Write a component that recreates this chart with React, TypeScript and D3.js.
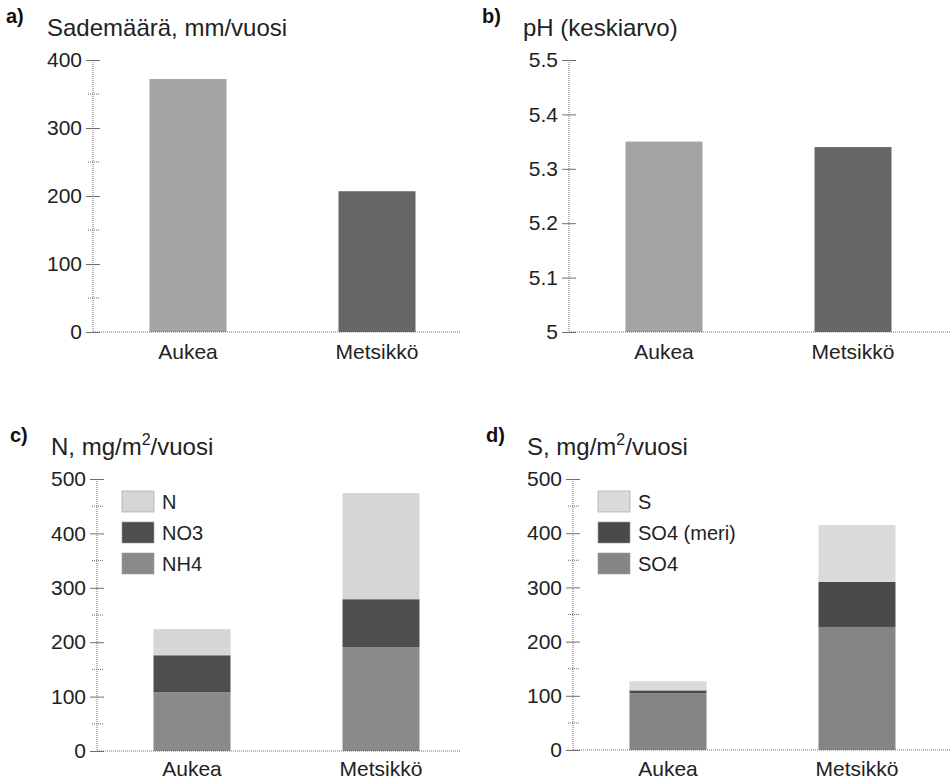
import { useEffect, useRef } from "react"
import * as d3 from "d3"

// categories and values
const categories = ["Aukea", "Metsikkö"]
const rainfall = [372, 207]
const phMean = [5.35, 5.34]

const nitrogenKeys = ["NH4", "NO3", "N"]
const nitrogenNH4 = [108, 191]
const nitrogenNO3 = [68, 88]
const nitrogenN = [48, 195]

const sulfurKeys = ["SO4", "SO4 (meri)", "S"]
const sulfurSO4 = [105, 227]
const sulfurSea = [5, 83]
const sulfurS = [17, 105]

const FONT = "'Liberation Sans', Arial, sans-serif"
const AXIS_COLOR = "#6e6e6e"

interface Panel {
  letter: string
  title: string
  sup?: string
  titleRest?: string
  x0: number
  xEnd: number
  yTop: number
  yBottom: number
  domain: [number, number]
  major: number
  minor?: number
  labelGap: number
  fmt: (d: number) => string
}

export default function App() {
  const svgRef = useRef<SVGSVGElement>(null)

  useEffect(() => {
    if (!svgRef.current) return
    const svg = d3.select(svgRef.current)
    svg.selectAll("*").remove()

    const drawPanel = (p: Panel) => {
      const g = svg.append("g")
      const y = d3.scaleLinear().domain(p.domain).range([p.yBottom, p.yTop])
      const x = d3.scalePoint<string>().domain(categories).range([p.x0 + 95, p.x0 + 284])

      // panel letter
      g.append("text")
        .attr("x", p.x0 - 87)
        .attr("y", p.yTop - 37)
        .attr("font-family", FONT)
        .attr("font-weight", "bold")
        .attr("font-size", 20)
        .attr("fill", "#111")
        .text(p.letter)

      // title
      const t = g.append("text")
        .attr("x", p.x0 - 46)
        .attr("y", p.yTop - 24)
        .attr("font-family", FONT)
        .attr("font-size", 24)
        .attr("fill", "#222")
      t.append("tspan").text(p.title)
      if (p.sup) {
        t.append("tspan").attr("font-size", 16).attr("dy", -10).text(p.sup)
        t.append("tspan").attr("dy", 10).text(p.titleRest || "")
      }

      // y axis
      const yAxis = d3.axisLeft(y)
        .tickValues(d3.range(p.domain[0], p.domain[1] + p.major / 2, p.major))
        .tickFormat((d) => p.fmt(+d))
        .tickSize(8)
        .tickPadding(3)
      const ya = g.append("g").attr("transform", `translate(${p.x0},0)`).call(yAxis)
      ya.select(".domain").remove()
      ya.selectAll(".tick line")
        .attr("x2", -7)
        .attr("x1", 7)
        .attr("stroke", AXIS_COLOR)
      ya.selectAll("text")
        .attr("font-family", FONT)
        .attr("font-size", 21)
        .attr("fill", "#222")

      if (p.minor) {
        const minors = d3.range(p.domain[0] + p.minor, p.domain[1], p.major)
        g.append("g")
          .selectAll("line")
          .data(minors)
          .join("line")
          .attr("x1", p.x0 - 5)
          .attr("x2", p.x0 + 6)
          .attr("y1", (d) => y(d))
          .attr("y2", (d) => y(d))
          .attr("stroke", AXIS_COLOR)
          .attr("stroke-dasharray", "1,1")
      }

      // dotted axis lines
      g.append("line")
        .attr("x1", p.x0).attr("x2", p.x0)
        .attr("y1", p.yTop).attr("y2", p.yBottom)
        .attr("stroke", AXIS_COLOR)
        .attr("stroke-dasharray", "1,1")
      g.append("line")
        .attr("x1", p.x0).attr("x2", p.xEnd)
        .attr("y1", p.yBottom).attr("y2", p.yBottom)
        .attr("stroke", AXIS_COLOR)
        .attr("stroke-dasharray", "1,1")

      // category labels
      g.append("g")
        .selectAll("text")
        .data(categories)
        .join("text")
        .attr("x", (d) => x(d) as number)
        .attr("y", p.yBottom + p.labelGap)
        .attr("text-anchor", "middle")
        .attr("font-family", FONT)
        .attr("font-size", 21)
        .attr("fill", "#222")
        .text((d) => d)

      return { g, x, y }
    }

    const barW = 77

    // a) rainfall
    {
      const { g, x, y } = drawPanel({
        letter: "a)", title: "Sademäärä, mm/vuosi",
        x0: 93, xEnd: 460, yTop: 60, yBottom: 332, labelGap: 27,
        domain: [0, 400], major: 100, minor: 50, fmt: (d) => String(d),
      })
      const fills = ["#a4a4a4", "#676767"]
      g.insert("g", ":first-child")
        .selectAll("rect")
        .data(rainfall)
        .join("rect")
        .attr("x", (_, i) => (x(categories[i]) as number) - barW / 2)
        .attr("width", barW)
        .attr("y", (d) => y(d))
        .attr("height", (d) => y(0) - y(d))
        .attr("fill", (_, i) => fills[i])
    }

    // b) pH
    {
      const { g, x, y } = drawPanel({
        letter: "b)", title: "pH (keskiarvo)",
        x0: 569, xEnd: 951, yTop: 60, yBottom: 332, labelGap: 27,
        domain: [5, 5.5], major: 0.1, fmt: d3.format(".1~f"),
      })
      const fills = ["#a4a4a4", "#676767"]
      g.insert("g", ":first-child")
        .selectAll("rect")
        .data(phMean)
        .join("rect")
        .attr("x", (_, i) => (x(categories[i]) as number) - barW / 2)
        .attr("width", barW)
        .attr("y", (d) => y(d))
        .attr("height", (d) => y(5) - y(d))
        .attr("fill", (_, i) => fills[i])
    }

    // stacked panels
    const stacked = (
      p: Panel,
      keys: string[],
      series: number[][],
      colors: string[],
      legendX: number,
    ) => {
      const { g, x, y } = drawPanel(p)
      const rows = categories.map((c, i) => {
        const r: any = { cat: c }
        keys.forEach((k, j) => (r[k] = series[j][i]))
        return r
      })
      const stack = d3.stack<any>().keys(keys)(rows)
      const color = d3.scaleOrdinal<string>().domain(keys).range(colors)
      const bars = g.insert("g", ":first-child")
      stack.forEach((layer) => {
        bars.append("g")
          .selectAll("rect")
          .data(layer)
          .join("rect")
          .attr("x", (d) => (x(d.data.cat) as number) - barW / 2)
          .attr("width", barW)
          .attr("y", (d) => y(d[1]))
          .attr("height", (d) => y(d[0]) - y(d[1]))
          .attr("fill", color(layer.key))
      })

      // legend, top entry is the top layer
      const legend = g.append("g").attr("transform", `translate(${legendX},${p.yTop + 12})`)
      keys.slice().reverse().forEach((k, i) => {
        const item = legend.append("g").attr("transform", `translate(0,${i * 31})`)
        item.append("rect")
          .attr("width", 32)
          .attr("height", 21)
          .attr("fill", color(k))
          .attr("stroke", "#999")
          .attr("stroke-width", 0.6)
        item.append("text")
          .attr("x", 40)
          .attr("y", 18)
          .attr("font-family", FONT)
          .attr("font-size", 20)
          .attr("fill", "#222")
          .text(k)
      })
    }

    stacked(
      {
        letter: "c)", title: "N, mg/m", sup: "2", titleRest: "/vuosi",
        x0: 97, xEnd: 460, yTop: 479, yBottom: 751, labelGap: 25,
        domain: [0, 500], major: 100, minor: 50, fmt: (d) => String(d),
      },
      nitrogenKeys,
      [nitrogenNH4, nitrogenNO3, nitrogenN],
      ["#8a8a8a", "#4e4e4e", "#d6d6d6"],
      122,
    )

    stacked(
      {
        letter: "d)", title: "S, mg/m", sup: "2", titleRest: "/vuosi",
        x0: 573, xEnd: 951, yTop: 479, yBottom: 750, labelGap: 26,
        domain: [0, 500], major: 100, minor: 50, fmt: (d) => String(d),
      },
      sulfurKeys,
      [sulfurSO4, sulfurSea, sulfurS],
      ["#858585", "#4a4a4a", "#dadada"],
      598,
    )
  }, [])

  return (
    <svg
      ref={svgRef}
      width={951}
      height={780}
      style={{ position: "absolute", left: 0, top: 0, background: "#fff" }}
    />
  )
}
